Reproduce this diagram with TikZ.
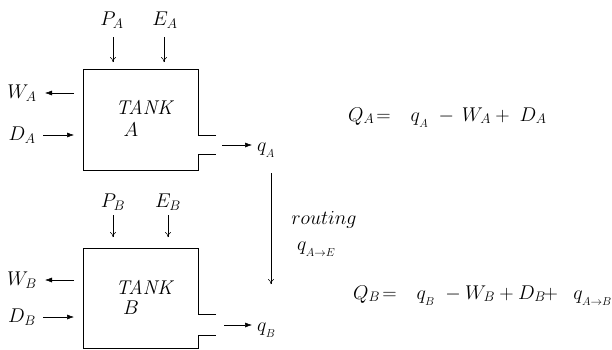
\documentclass[tikz,border=0pt]{standalone}
\usetikzlibrary{arrows.meta}
\begin{document}
\begin{tikzpicture}[x=1pt,y=-1pt,
  lbl/.style={inner sep=0pt, font=\huge, scale=0.96},
  openarrow/.style={-{To[length=5pt,width=6pt]}, line width=0.5pt},
  fillarrow/.style={-{Latex[length=7pt,width=5pt]}, line width=0.5pt},
  wall/.style={line width=0.8pt, line join=miter}]
\useasboundingbox (0,0) rectangle (612,349);

% ---------------- Tank A ----------------
\draw[wall] (216,135) -- (198,135) -- (198,69) -- (83,69) -- (83,170) -- (198,170) -- (198,154) -- (216,154);
\node[lbl] (tankA) at (145,107) {\textit{TANK}};
\node[lbl] (tankAl) at (131,130) {$A$};

\node[lbl] (PA) at (112,20) {$P_A$};
\node[lbl] (EA) at (165,20) {$E_A$};
\coordinate (PAs) at (113,37);
\coordinate (PAe) at (113,62);
\coordinate (EAs) at (164,37);
\coordinate (EAe) at (164,62);
\draw[openarrow] (PAs) -- (PAe);
\draw[openarrow] (EAs) -- (EAe);

\node[lbl] (WA) at (22,93) {$W_A$};
\coordinate (WAs) at (74,93);
\coordinate (WAe) at (45,93);
\draw[fillarrow] (WAs) -- (WAe);
\node[lbl] (DA) at (22,135) {$D_A$};
\coordinate (DAs) at (43,135);
\coordinate (DAe) at (74,135);
\draw[fillarrow] (DAs) -- (DAe);

\coordinate (qAs) at (222,145);
\coordinate (qAe) at (252,145);
\node[lbl, anchor=base west] (qA) at (257,151) {$q_{_A}$};
\draw[fillarrow] (qAs) -- (qAe);

% ---------------- Tank B ----------------
\draw[wall] (216,314) -- (198,314) -- (198,248) -- (83,248) -- (83,348) -- (198,348) -- (198,335) -- (216,335);
\node[lbl] (tankB) at (145,287) {\textit{TANK}};
\node[lbl] (tankBl) at (131,308) {$B$};

\node[lbl] (PB) at (113,202) {$P_B$};
\node[lbl] (EB) at (168,202) {$E_B$};
\coordinate (PBs) at (113,215);
\coordinate (PBe) at (113,237);
\coordinate (EBs) at (168,215);
\coordinate (EBe) at (168,237);
\draw[openarrow] (PBs) -- (PBe);
\draw[openarrow] (EBs) -- (EBe);

\node[lbl] (WB) at (22,280) {$W_B$};
\coordinate (WBs) at (74,280);
\coordinate (WBe) at (45,280);
\draw[fillarrow] (WBs) -- (WBe);
\node[lbl] (DB) at (22,317) {$D_B$};
\coordinate (DBs) at (43,317);
\coordinate (DBe) at (74,317);
\draw[fillarrow] (DBs) -- (DBe);

\coordinate (qBs) at (224,325);
\coordinate (qBe) at (252,325);
\node[lbl, anchor=base west] (qB) at (257,331) {$q_{_B}$};
\draw[fillarrow] (qBs) -- (qBe);

% ---------------- routing ----------------
\coordinate (rs) at (271,173);
\coordinate (re) at (271,284);
\draw[openarrow] (rs) -- (re);
\node[lbl] (rout) at (324,220) {$routing$};
\node[lbl, anchor=base west] (qAE) at (297,250) {$q_{_{A\to E}}$};

% ---------------- equations ----------------
\node[lbl, anchor=base west] (eqA) at (348,121) {$Q_A\!=\;\;\, q_{_A}\; -\, W_A +\; D_A$};
\node[lbl, anchor=base west] (eqB) at (353,299) {$Q_B\!=\;\;\, q_{_B}\; - W_B + D_B\!\!+\;\; q_{_{A\to B}}$};
\end{tikzpicture}
\end{document}
